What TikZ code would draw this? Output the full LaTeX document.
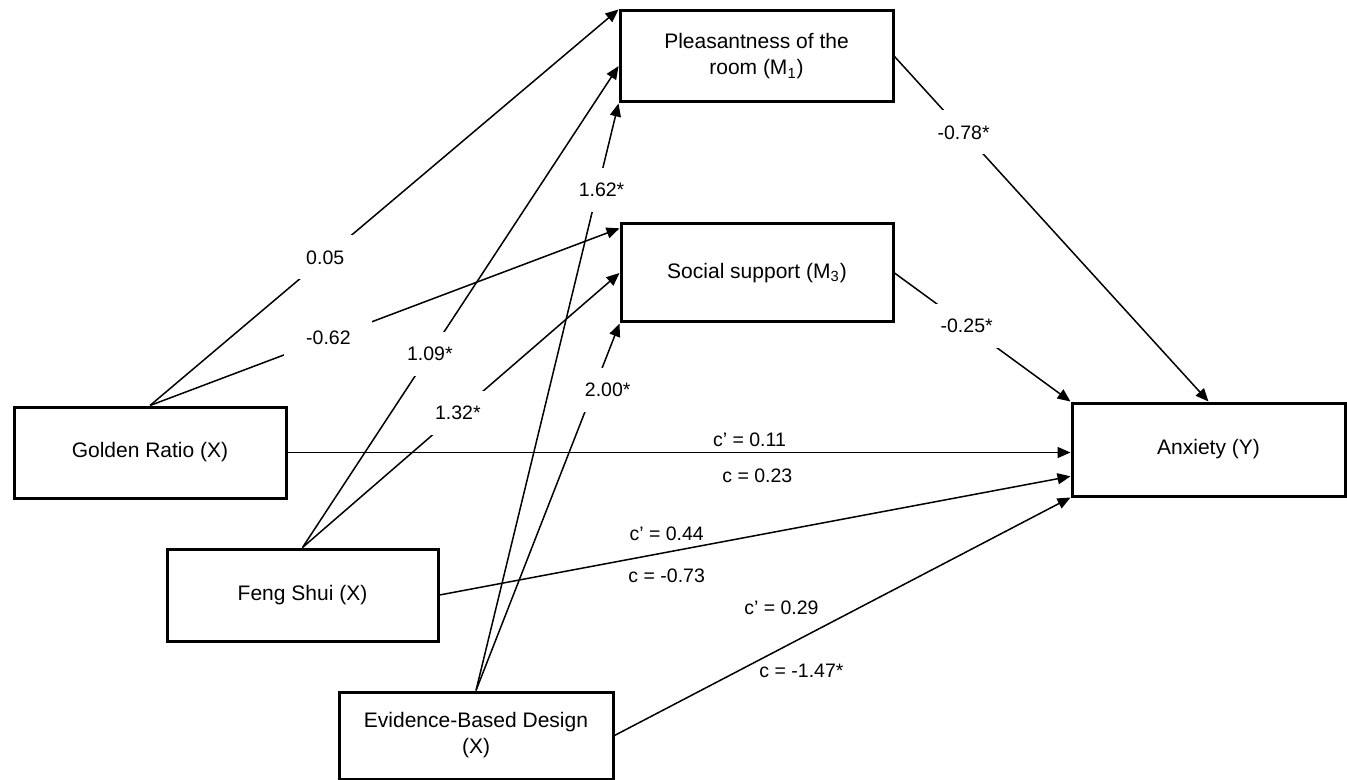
\documentclass[tikz,border=0pt]{standalone}
\usepackage{fontspec}
\setmainfont{Liberation Sans}
\usepackage{tikz}
\usetikzlibrary{arrows.meta}

\begin{document}
\begin{tikzpicture}[x=0.5pt,y=-0.5pt,
  var/.style={draw,line width=1.5pt,inner sep=0pt,align=center,
    font=\fontsize{10.5}{13}\selectfont},
  conn/.style={-{Triangle[length=6.5pt,width=5.5pt]},line width=0.75pt},
  coef/.style={fill=white,inner sep=0pt,minimum width=44pt,minimum height=22pt,
    font=\fontsize{9.75}{11}\selectfont},
  ceff/.style={inner sep=0pt,font=\fontsize{9.75}{11}\selectfont}]
  \useasboundingbox (0,0) rectangle (1347,780);
  % mediators
  \node[var,minimum width=136.5pt,minimum height=45.5pt] (m1) at (756.5,56.5)
    {Pleasantness of the\\room (M\textsubscript{1})};
  \node[var,minimum width=136pt,minimum height=49pt] (m3) at (757,273)
    {Social support (M\textsubscript{3})};
  % predictors
  \node[var,minimum width=136pt,minimum height=45.5pt] (golden) at (150,452.5) {Golden Ratio (X)};
  \node[var,minimum width=135.5pt,minimum height=46pt] (feng) at (302.5,595) {Feng Shui (X)};
  \node[var,minimum width=137pt,minimum height=43.5pt] (ebd) at (476,735.5)
    {Evidence-Based Design\\(X)};
  % outcome
  \node[var,minimum width=136.5pt,minimum height=46.5pt] (anx) at (1208.5,449.5) {Anxiety (Y)};

  % a paths into M1
  \draw[conn] (golden.north) -- node[coef,pos=.374]{0.05} (m1.north west);
  \draw[conn] (feng.north) -- node[coef,pos=.403]{1.09*} (m1.184);
  \draw[conn] (ebd.north) -- node[coef,pos=.853,xshift=2pt]{1.62*} (m1.south west);
  % a paths into M3
  \draw[conn] (golden.north) -- node[coef,pos=.38]{-0.62} (m3.162);
  \draw[conn] (feng.north) -- node[coef,pos=.49]{1.32*} (m3.west);
  \draw[conn] (ebd.north) -- node[coef,pos=.82,xshift=7pt]{2.00*} (m3.south west);
  % b paths
  \draw[conn] (m1.east) -- node[coef,pos=.22]{-0.78*} (anx.north);
  \draw[conn] (m3.east) -- node[coef,pos=.41]{-0.25*} (anx.north west);
  % direct and total effects
  \draw[conn] (golden.east) --
    node[ceff,pos=.59,yshift=6.5pt]{c' = 0.11}
    node[ceff,pos=.60,yshift=-11.5pt]{c = 0.23} (golden.east -| anx.west);
  \draw[conn] (feng.east) --
    node[ceff,pos=.36,yshift=9pt]{c' = 0.44}
    node[ceff,pos=.36,yshift=-12pt]{c = -0.73} (anx.191);
  \draw[conn] (ebd.east) --
    node[ceff,pos=.366,yshift=20.5pt]{c' = 0.29}
    node[ceff,pos=.41,yshift=-16.5pt]{c = -1.47*} (anx.south west);
\end{tikzpicture}
\end{document}
